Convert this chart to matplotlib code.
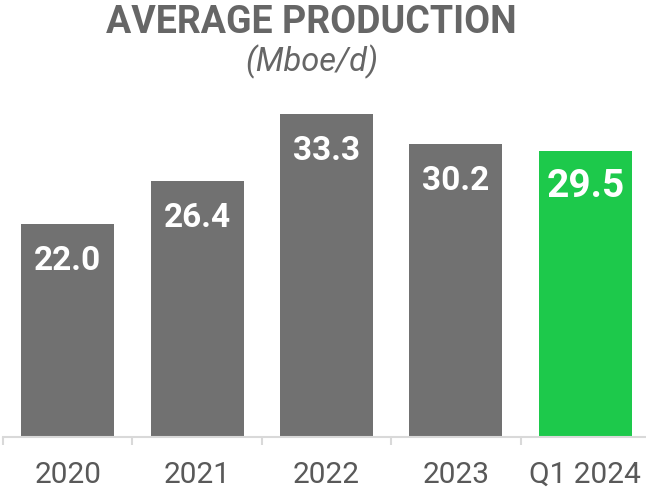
import matplotlib
matplotlib.use("Agg")
import matplotlib.pyplot as plt

categories = ["2020", "2021", "2022", "2023", "Q1 2024"]
values = [22.0, 26.4, 33.3, 30.2, 29.5]
labels = ["22.0", "26.4", "33.3", "30.2", "29.5"]
colors = ["#717171", "#717171", "#717171", "#717171", "#1DC94B"]
label_sizes = [24, 24, 24, 24, 28]

plt.rcParams['font.family'] = ['Roboto', 'DejaVu Sans']

W, H = 646, 491
fig = plt.figure(figsize=(W / 100, H / 100), dpi=100)
ax = fig.add_axes([3 / W, (H - 437) / H, 647 / W, (437 - 98) / H])

x = list(range(len(categories)))
ax.bar(x, values, width=0.72, color=colors, zorder=2)
ax.set_xlim(-0.5, len(categories) - 0.5)
ax.set_ylim(0, 35)

for xi, v, lab, fs in zip(x, values, labels, label_sizes):
    ax.annotate(lab, xy=(xi, v), xytext=(0, -46), textcoords='offset pixels',
                ha='center', va='baseline', color='white', fontsize=fs,
                fontweight='bold')

for s in ['top', 'right', 'left']:
    ax.spines[s].set_visible(False)
ax.spines['bottom'].set_color('#d9d9d9')
ax.spines['bottom'].set_linewidth(1.5)
ax.set_yticks([])
ax.set_xticks(x)
ax.set_xticklabels(categories, fontsize=21.5, color='#595959')
for t in ax.get_xticklabels():
    t.set_va('baseline')
ax.tick_params(axis='x', which='major', length=0, pad=33)
ax.set_xticks([i - 0.5 for i in range(len(categories) + 1)], minor=True)
ax.tick_params(axis='x', which='minor', length=6, width=1.5, color='#d9d9d9')

fig.text(311.5 / W, 1 - 33 / H, "AVERAGE PRODUCTION", ha='center', va='baseline',
         fontsize=27, fontweight='bold', color='#666666')
fig.text(312 / W, 1 - 71 / H, "(Mboe/d)", ha='center', va='baseline',
         fontsize=23.5, style='italic', color='#666666')

fig.savefig("out.png", dpi=100)
